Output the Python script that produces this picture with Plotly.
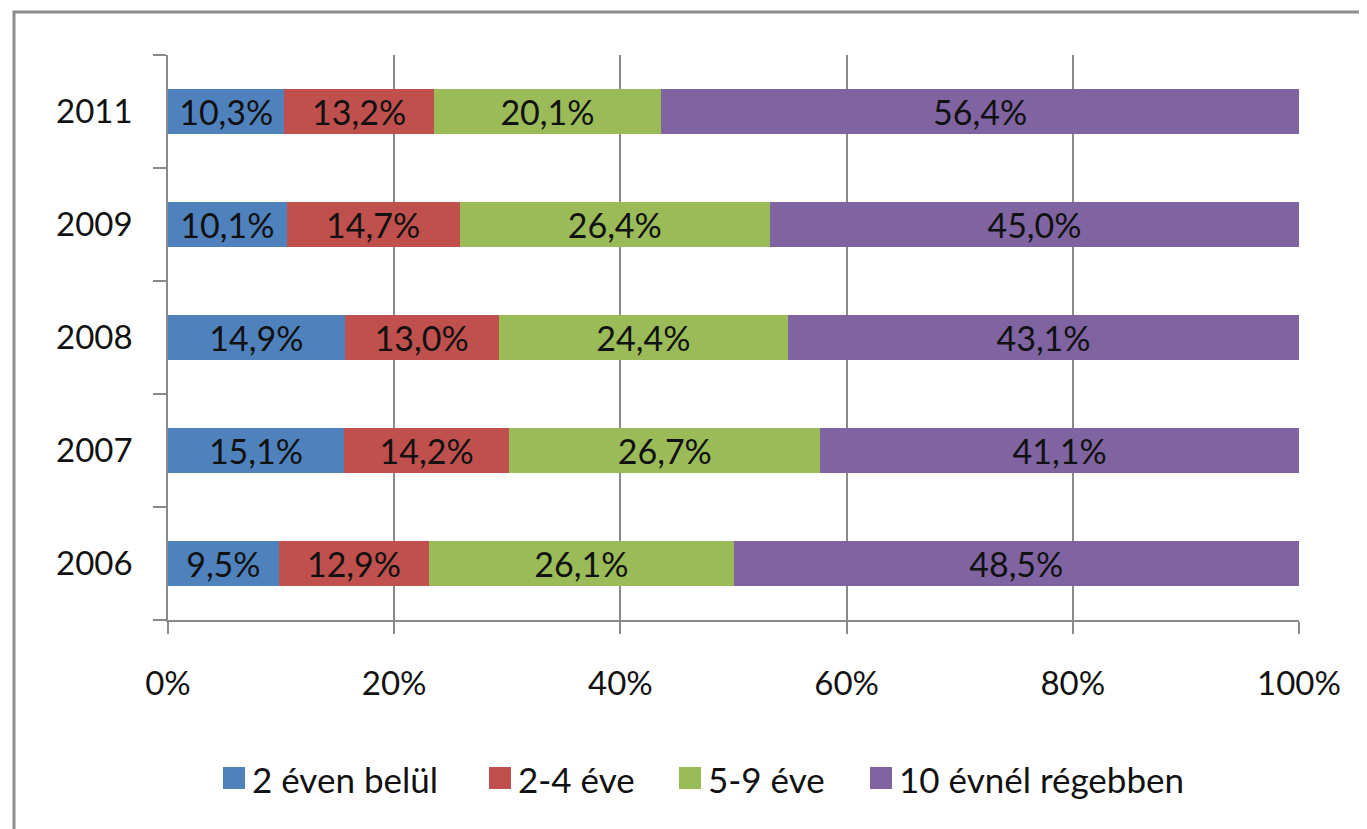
import plotly.graph_objects as go

years = ["2006", "2007", "2008", "2009", "2011"]
series_names = ["2 éven belül", "2-4 éve", "5-9 éve", "10 évnél régebben"]
v_2ev = [9.5, 15.1, 14.9, 10.1, 10.3]
v_24 = [12.9, 14.2, 13.0, 14.7, 13.2]
v_59 = [26.1, 26.7, 24.4, 26.4, 20.1]
v_10 = [48.5, 41.1, 43.1, 45.0, 56.4]
colors = ["#4F81BD", "#C0504D", "#9BBB59", "#8064A2"]
x_ticks = [0, 20, 40, 60, 80, 100]
x_ticklabels = ["0%", "20%", "40%", "60%", "80%", "100%"]

FONT = "Lato"
FS_TICK = 33
FS_BAR = 34
FS_LEG = 35

# plot-area geometry in screen pixels (page has 8px body margin)
PX_L, PX_R, PX_T, PX_B = 168, 1299, 55, 620
PW, PH = PX_R - PX_L, PX_B - PX_T


def px_x(x):
    return (x - PX_L) / PW


def px_y(y):
    return (PX_B - y) / PH


fig = go.Figure()
for name, vals, col in zip(series_names, [v_2ev, v_24, v_59, v_10], colors):
    fig.add_trace(go.Bar(
        y=years, x=vals, name=name, orientation="h",
        marker=dict(color=col, line=dict(width=0)),
        text=[f"{v:.1f}%".replace(".", ",") for v in vals],
        textposition="inside", insidetextanchor="middle",
        textfont=dict(family=FONT, size=FS_BAR, color="#111111"),
        hoverinfo="skip", showlegend=False,
    ))

fig.update_layout(
    barmode="stack", barnorm="percent", bargap=0.61,
    width=1367, height=829,
    margin=dict(l=PX_L - 8, r=1367 + 8 - PX_R, t=PX_T - 8, b=829 + 8 - PX_B),
    paper_bgcolor="white", plot_bgcolor="white",
    font=dict(family=FONT, size=FS_TICK, color="#111111"),
    uniformtext=dict(minsize=FS_BAR, mode="show"),
    showlegend=False,
    xaxis=dict(range=[0, 100], tickvals=x_ticks, ticktext=x_ticklabels,
               showgrid=True, gridcolor="#8a8a8a", gridwidth=1.5,
               showline=True, linecolor="#8a8a8a", linewidth=1.5,
               ticks="outside", ticklen=12, tickcolor="#8a8a8a", tickwidth=1.5,
               ticklabelstandoff=22, zeroline=False,
               tickfont=dict(family=FONT, size=FS_TICK, color="#111111")),
    yaxis=dict(type="category", categoryorder="array", categoryarray=years,
               range=[-0.5, 4.5],
               showline=True, linecolor="#8a8a8a", linewidth=1.5,
               ticks="outside", tickson="boundaries", ticklen=13,
               tickcolor="#8a8a8a", tickwidth=1.5, showgrid=False,
               ticklabelstandoff=27,
               tickfont=dict(family=FONT, size=FS_TICK, color="#111111")),
)

# outer frame
fig.add_shape(type="rect", xref="paper", yref="paper",
              x0=px_x(14), x1=px_x(1420), y0=px_y(880), y1=px_y(12),
              line=dict(color="#8c8c8c", width=3), fillcolor="rgba(0,0,0,0)",
              layer="below")

# legend (drawn manually for larger symbols and Excel-like spacing)
leg_marker_left = [223, 489, 679, 870]
MS = 22
LEG_CY = 778
for name, col, mx in zip(series_names, colors, leg_marker_left):
    fig.add_shape(type="rect", xref="paper", yref="paper",
                  x0=px_x(mx), x1=px_x(mx + MS),
                  y0=px_y(LEG_CY + MS / 2), y1=px_y(LEG_CY - MS / 2),
                  line=dict(width=0), fillcolor=col)
    fig.add_annotation(xref="paper", yref="paper", x=px_x(mx + MS + 5), y=px_y(LEG_CY + 1),
                       text=name, showarrow=False, xanchor="left", yanchor="middle",
                       font=dict(family=FONT, size=FS_LEG, color="#111111"))

fig.write_html("out.html")
